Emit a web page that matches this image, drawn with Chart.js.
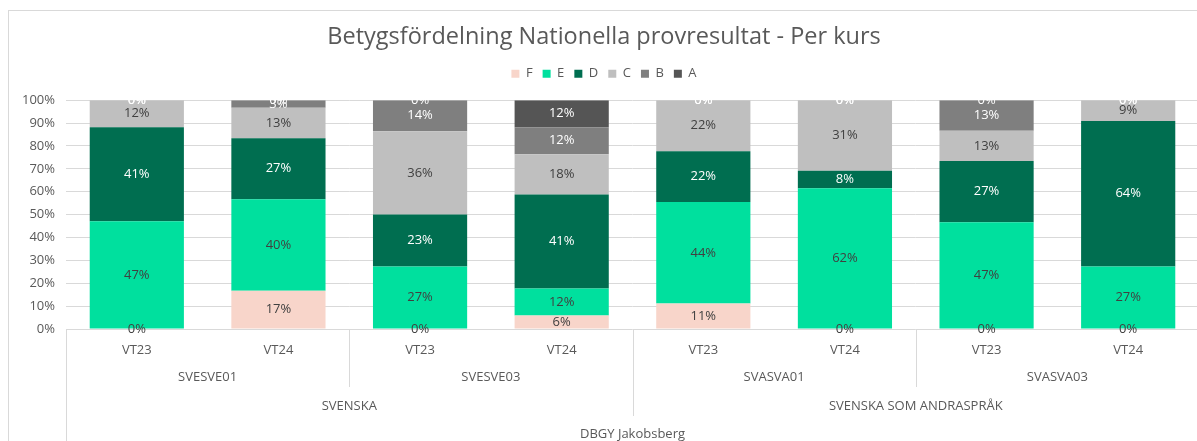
<!DOCTYPE html>
<html>
<head>
<meta charset="utf-8">
<script src="https://cdn.jsdelivr.net/npm/chart.js@4.4.1/dist/chart.umd.min.js"></script>
<style>
  html, body { margin: 0; padding: 0; background: #fff; overflow: hidden; }
  #frame { position: absolute; left: 8px; top: 10px; width: 1204px; height: 440px; border: 1px solid #d9d9d9; }
  #myChart { display: block; }
</style>
</head>
<body>
<div id="frame"><canvas id="myChart" width="1204" height="432"></canvas></div>
<script>
// bar categories (lowest level of the axis)
const terms = ['VT23', 'VT24', 'VT23', 'VT24', 'VT23', 'VT24', 'VT23', 'VT24'];
// higher axis levels
const courses = ['SVESVE01', 'SVESVE03', 'SVASVA01', 'SVASVA03'];
const languages = ['SVENSKA', 'SVENSKA SOM ANDRASPRÅK'];
const school = 'DBGY Jakobsberg';

// share of each grade, percent
const gradeF = [0, 16.7, 0, 5.9, 11.1, 0, 0, 0];
const gradeE = [47.1, 40, 27.3, 11.8, 44.4, 61.5, 46.7, 27.3];
const gradeD = [41.1, 26.7, 22.7, 41.1, 22.2, 7.7, 26.7, 63.6];
const gradeC = [11.8, 13.3, 36.4, 17.6, 22.3, 30.8, 13.3, 9.1];
const gradeB = [0, 3.3, 13.6, 11.8, 0, 0, 13.3, 0];
const gradeA = [0, 0, 0, 11.8, 0, 0, 0, 0];

const yTicks = [0, 10, 20, 30, 40, 50, 60, 70, 80, 90, 100];

const gridColor = '#d9d9d9';
const textColor = '#595959';
const fontFamily = "'Open Sans', 'Noto Sans', sans-serif";

const series = [
    { label: 'F', data: gradeF, color: '#f8d5ca', text: '#404040' },
    { label: 'E', data: gradeE, color: '#00e09e', text: '#404040' },
    { label: 'D', data: gradeD, color: '#006e50', text: '#ffffff' },
    { label: 'C', data: gradeC, color: '#bfbfbf', text: '#404040' },
    { label: 'B', data: gradeB, color: '#7f7f7f', text: '#ffffff' },
    { label: 'A', data: gradeA, color: '#555555', text: '#ffffff' }
];

// percent labels in the middle of each segment
const barLabels = {
    id: 'barLabels',
    afterDatasetsDraw(chart) {
        const ctx = chart.ctx;
        ctx.save();
        ctx.font = '13px ' + fontFamily;
        ctx.textAlign = 'center';
        ctx.textBaseline = 'middle';
        chart.data.datasets.forEach((ds, i) => {
            const meta = chart.getDatasetMeta(i);
            ctx.fillStyle = series[i].text;
            meta.data.forEach((bar, j) => {
                const v = ds.data[j];
                ctx.fillText(Math.round(v) + '%', bar.x, (bar.y + bar.base) / 2);
            });
        });
        ctx.restore();
    }
};

// multi level category axis (course / language / school)
const groupAxis = {
    id: 'groupAxis',
    afterDraw(chart) {
        const ctx = chart.ctx;
        const x = chart.scales.x;
        const area = chart.chartArea;
        const step = x.getPixelForValue(1) - x.getPixelForValue(0);
        const edge = i => x.getPixelForValue(i) - step / 2;
        ctx.save();
        ctx.strokeStyle = gridColor;
        ctx.lineWidth = 1;
        const vline = (px, y2) => {
            ctx.beginPath();
            ctx.moveTo(Math.round(px) + 0.5, area.bottom);
            ctx.lineTo(Math.round(px) + 0.5, y2);
            ctx.stroke();
        };
        vline(area.left, chart.height);
        const perCourse = terms.length / courses.length;
        const perLang = terms.length / languages.length;
        for (let c = 1; c < courses.length; c++) {
            const i = c * perCourse;
            vline(edge(i), i % perLang === 0 ? area.bottom + 87 : area.bottom + 58);
        }
        ctx.font = '13px ' + fontFamily;
        ctx.fillStyle = textColor;
        ctx.textAlign = 'center';
        ctx.textBaseline = 'middle';
        courses.forEach((c, k) => {
            const mid = (edge(k * perCourse) + edge((k + 1) * perCourse)) / 2;
            ctx.fillText(c, mid, area.bottom + 48);
        });
        languages.forEach((l, k) => {
            const mid = (edge(k * perLang) + edge((k + 1) * perLang)) / 2;
            ctx.fillText(l, mid, area.bottom + 77);
        });
        ctx.fillText(school, (edge(0) + edge(terms.length)) / 2, area.bottom + 105);
        ctx.restore();
    }
};

// extra space under the legend
const legendGap = {
    id: 'legendGap',
    beforeInit(chart) {
        const fit = chart.legend.fit;
        chart.legend.fit = function () {
            fit.bind(chart.legend)();
            this.height += 10;
        };
    }
};

const ctx = document.getElementById('myChart').getContext('2d');
const chart = new Chart(ctx, {
    type: 'bar',
    data: {
        labels: terms,
        datasets: series.map(s => ({
            label: s.label,
            data: s.data,
            backgroundColor: s.color,
            borderWidth: 0,
            barPercentage: 1,
            categoryPercentage: 0.665
        }))
    },
    options: {
        responsive: false,
        animation: false,
        layout: { padding: { left: 0, right: 14, top: 0, bottom: 0 } },
        plugins: {
            title: {
                display: true,
                text: 'Betygsfördelning Nationella provresultat - Per kurs',
                color: textColor,
                font: { size: 23.5, family: fontFamily, weight: 'normal' },
                padding: { top: 12, bottom: 6 }
            },
            legend: {
                labels: {
                    boxWidth: 8,
                    boxHeight: 8,
                    padding: 10,
                    color: textColor,
                    font: { size: 13, family: fontFamily }
                }
            },
            tooltip: { enabled: false }
        },
        scales: {
            x: {
                stacked: true,
                grid: { display: false, drawTicks: false },
                border: { display: false },
                ticks: { color: textColor, font: { size: 13, family: fontFamily }, padding: 13, maxRotation: 0 },
                afterFit(scale) { scale.height = 114; }
            },
            y: {
                stacked: true,
                min: 0,
                max: 100,
                afterBuildTicks(scale) { scale.ticks = yTicks.map(v => ({ value: v })); },
                grid: { color: gridColor, drawTicks: false },
                border: { display: false },
                ticks: {
                    color: textColor,
                    font: { size: 13, family: fontFamily },
                    padding: 11,
                    callback: v => v + '%'
                },
                afterFit(scale) { scale.width = 57; }
            }
        }
    },
    plugins: [barLabels, groupAxis, legendGap]
});
</script>
</body>
</html>
